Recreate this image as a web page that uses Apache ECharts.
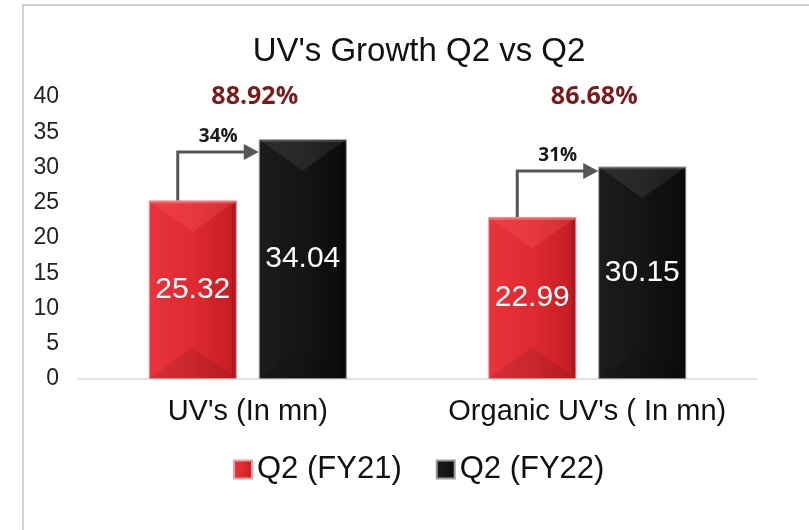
<!DOCTYPE html>
<html>
<head>
<meta charset="utf-8">
<script src="https://cdn.jsdelivr.net/npm/echarts@6/dist/echarts.min.js"></script>
<style>
  html, body { margin: 0; padding: 0; background: #fff; }
  #main { width: 809px; height: 530px; }
</style>
</head>
<body>
<div id="main"></div>
<script>
// data
var categories = ["UV's (In mn)", "Organic UV's ( In mn)"];
var fy21 = [25.32, 22.99];
var fy22 = [34.04, 30.15];
var growthLabels = ['34%', '31%'];
var shareLabels = ['88.92%', '86.68%'];
var arrowLevel = [32.2, 29.5];
var yTicks = [0, 40, 5]; // min, max, step

var FONT = '"Liberation Sans", Arial, sans-serif';
var BAR_W = 88, BAR_GAP = 22;

var redFill = new echarts.graphic.LinearGradient(0, 0, 1, 0, [
  { offset: 0, color: '#ea333b' },
  { offset: 0.5, color: '#df2a31' },
  { offset: 1, color: '#c21c22' }
]);
var blackFill = new echarts.graphic.LinearGradient(0, 0, 1, 0, [
  { offset: 0, color: '#1c1c1c' },
  { offset: 0.5, color: '#151515' },
  { offset: 1, color: '#0a0a0a' }
]);

var arrowData = categories.map(function (c, i) {
  return [i, fy21[i], arrowLevel[i], growthLabels[i], shareLabels[i], yTicks[1]];
});

// bevel overlay, one item per bar: [category, value, side (0 = FY21, 1 = FY22)]
var bevelData = fy21.map(function (v, i) { return [i, v, 0]; })
  .concat(fy22.map(function (v, i) { return [i, v, 1]; }));

function renderBevel(params, api) {
  var i = api.value(0);
  var side = api.value(2);
  var topPt = api.coord([i, api.value(1)]);
  var basePt = api.coord([i, 0]);
  var cx = topPt[0] + (side === 0 ? -1 : 1) * (BAR_W + BAR_GAP) / 2;
  var l = cx - BAR_W / 2, r = cx + BAR_W / 2;
  var t = topPt[1], b = basePt[1];
  var d = Math.min(BAR_W * 0.36, (b - t) / 2);
  return {
    type: 'group',
    children: [
      {
        type: 'polygon',
        shape: { points: [[l, t], [r, t], [cx, t + d]] },
        style: { fill: side === 0 ? 'rgba(255,110,110,0.22)' : 'rgba(255,255,255,0.08)' }
      },
      {
        type: 'rect',
        shape: { x: l, y: t, width: BAR_W, height: 3 },
        style: { fill: side === 0 ? 'rgba(255,150,150,0.4)' : 'rgba(255,255,255,0.15)' }
      },
      {
        type: 'polygon',
        shape: { points: [[l, b], [r, b], [cx, b - d]] },
        style: { fill: 'rgba(0,0,0,0.09)' }
      },
      {
        type: 'polygon',
        shape: { points: [[r, t], [r, b], [r - 5, b - 5], [r - 5, t + 5]] },
        style: { fill: 'rgba(0,0,0,0.12)' }
      }
    ]
  };
}

function renderArrow(params, api) {
  var i = api.value(0);
  var start = api.coord([i, api.value(1)]);
  var mid = api.coord([i, api.value(2)]);
  var top = api.coord([i, api.value(5)]);
  var cx = start[0];
  var x0 = cx - (BAR_W + BAR_GAP) / 2 - 15;
  var x1 = cx + BAR_GAP / 2;
  var y0 = start[1];
  var y1 = mid[1];
  return {
    type: 'group',
    children: [
      {
        type: 'polyline',
        shape: { points: [[x0, y0], [x0, y1], [x1 - 14, y1]] },
        style: { stroke: '#555', lineWidth: 3, fill: null }
      },
      {
        type: 'polygon',
        shape: { points: [[x1 - 15, y1 - 8], [x1, y1], [x1 - 15, y1 + 8]] },
        style: { fill: '#555' }
      },
      {
        type: 'text',
        style: {
          x: (x0 + x1) / 2, y: y1 - 15,
          text: api.value(3),
          align: 'center', verticalAlign: 'middle',
          font: 'bold 19px "Open Sans", sans-serif', fill: '#1a1a1a'
        }
      },
      {
        type: 'text',
        style: {
          x: cx + 7, y: top[1],
          text: api.value(4),
          align: 'center', verticalAlign: 'middle',
          font: 'bold 25px "Open Sans", sans-serif', fill: '#7a1a1c'
        }
      }
    ]
  };
}

var option = {
  backgroundColor: '#fff',
  textStyle: { fontFamily: FONT },
  title: {
    text: "UV's Growth Q2 vs Q2",
    left: 414,
    top: 30,
    textAlign: 'center',
    textStyle: { fontFamily: FONT, fontSize: 33, fontWeight: 'normal', color: '#111' }
  },
  graphic: [{
    type: 'rect',
    shape: { x: 23, y: 5, width: 820, height: 560 },
    style: { fill: null, stroke: '#c4c4bc', lineWidth: 1.5 },
    silent: true
  }],
  legend: {
    left: 233,
    top: 454,
    padding: 0,
    itemWidth: 18,
    itemHeight: 18,
    itemGap: 34,
    icon: 'rect',
    textStyle: { fontFamily: FONT, fontSize: 31, color: '#111' },
    data: ['Q2 (FY21)', 'Q2 (FY22)']
  },
  grid: { left: 78, right: 52, top: 97, bottom: 151, containLabel: false },
  xAxis: {
    type: 'category',
    data: categories,
    axisLine: { lineStyle: { color: '#d9d9d9', width: 1.5 } },
    axisTick: { show: false },
    axisLabel: {
      interval: 0, hideOverlap: false,
      fontFamily: FONT, fontSize: 29, color: '#111', margin: 18
    }
  },
  yAxis: {
    type: 'value',
    min: yTicks[0],
    max: yTicks[1],
    interval: yTicks[2],
    splitLine: { show: false },
    axisLine: { show: false },
    axisTick: { show: false },
    axisLabel: { fontFamily: FONT, fontSize: 23, color: '#222', margin: 19 }
  },
  series: [
    {
      name: 'Q2 (FY21)',
      type: 'bar',
      data: fy21,
      barWidth: BAR_W,
      barGap: (BAR_GAP / BAR_W * 100) + '%',
      itemStyle: { color: redFill, borderColor: '#e8a0a0', borderWidth: 1 },
      label: {
        show: true, position: 'inside',
        fontFamily: FONT, fontSize: 30, color: '#fff'
      }
    },
    {
      name: 'Q2 (FY22)',
      type: 'bar',
      data: fy22,
      barWidth: BAR_W,
      itemStyle: { color: blackFill, borderColor: '#9a9a9a', borderWidth: 1 },
      label: {
        show: true, position: 'inside',
        fontFamily: FONT, fontSize: 30, color: '#fff'
      }
    },
    {
      type: 'custom',
      renderItem: renderBevel,
      data: bevelData,
      silent: true,
      z: 3,
      encode: { x: 0, y: 1 }
    },
    {
      type: 'custom',
      renderItem: renderArrow,
      data: arrowData,
      silent: true,
      z: 10,
      encode: { x: 0, y: 1 }
    }
  ]
};

var chart = echarts.init(document.getElementById('main'));
chart.setOption(option);
</script>
</body>
</html>
